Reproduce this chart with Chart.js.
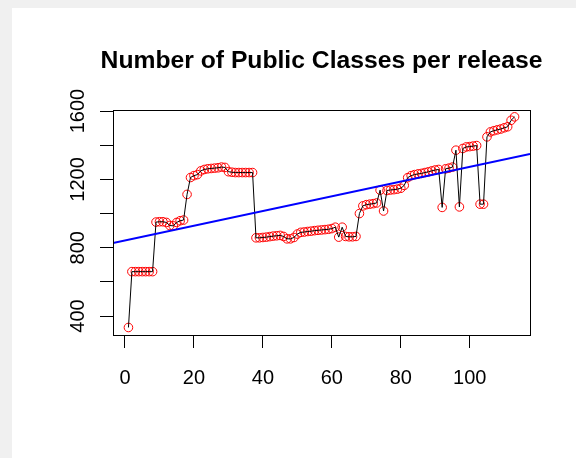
<!DOCTYPE html>
<html>
<head>
<meta charset="utf-8">
<script src="https://cdn.jsdelivr.net/npm/chart.js@4/dist/chart.umd.min.js"></script>
<style>
  html, body { margin: 0; padding: 0; background: #f0f0f0; width: 576px; height: 458px; overflow: hidden; }
  #panel { position: absolute; left: 12px; top: 8px; right: 0; bottom: 0; background: #ffffff; }
  #wrap { position: absolute; left: 0; top: 0; width: 576px; height: 458px; }
</style>
</head>
<body>
<div id="panel"></div>
<div id="wrap"><canvas id="c" width="576" height="458"></canvas></div>
<script>
// ---- data ----
const titleText = "Number of Public Classes per release";
const publicClasses = [
  333, 660, 660, 660, 660, 660, 660, 660, 950, 952,
  952, 948, 930, 928, 948, 958, 962, 1112, 1211, 1222,
  1228, 1250, 1258, 1262, 1264, 1266, 1268, 1272, 1270, 1245,
  1242, 1240, 1240, 1240, 1240, 1240, 1240, 858, 858, 860,
  862, 865, 868, 870, 872, 866, 852, 852, 860, 880,
  890, 892, 895, 897, 900, 902, 904, 906, 908, 912,
  920, 862, 920, 866, 864, 864, 866, 1000, 1045, 1052,
  1055, 1058, 1062, 1137, 1015, 1135, 1138, 1140, 1143, 1148,
  1165, 1210, 1222, 1228, 1232, 1235, 1240, 1244, 1250, 1255,
  1258, 1036, 1262, 1266, 1272, 1371, 1039, 1381, 1390, 1392,
  1395, 1398, 1055, 1055, 1449, 1478, 1485, 1490, 1495, 1502,
  1508, 1546, 1566
];
const releases = publicClasses.map((_, i) => i + 1);
const xTicks = [0, 20, 40, 60, 80, 100];
const yTicks = [400, 600, 800, 1000, 1200, 1400, 1600];
const yTickLabels = [400, 800, 1200, 1600];
const xRange = [-3.48, 117.48];
const yRange = [289, 1606];
const fitIntercept = 842;
const fitSlope = 4.31;

const pointsData = releases.map((r, i) => ({ x: r, y: publicClasses[i] }));
const fitData = xRange.map(x => ({ x: x, y: fitIntercept + fitSlope * x }));

const FONT = "'Liberation Sans', Arial, Helvetica, sans-serif";

const rBox = {
  id: 'rBox',
  afterDraw(chart) {
    const { ctx, chartArea: a, scales } = chart;
    ctx.save();
    ctx.strokeStyle = '#000';
    ctx.lineWidth = 1;
    ctx.strokeRect(Math.round(a.left) + 0.5, Math.round(a.top) + 0.5,
                   Math.round(a.right - a.left), Math.round(a.bottom - a.top));
    // rotated y tick labels (R style, parallel to axis)
    ctx.fillStyle = '#000';
    ctx.font = '20px ' + FONT;
    ctx.textAlign = 'center';
    ctx.textBaseline = 'middle';
    yTickLabels.forEach(v => {
      const py = scales.y.getPixelForValue(v);
      ctx.save();
      ctx.translate(78, py);
      ctx.rotate(-Math.PI / 2);
      ctx.fillText(String(v), 0, 0);
      ctx.restore();
    });
    ctx.restore();
  }
};

new Chart(document.getElementById('c'), {
  type: 'scatter',
  data: {
    datasets: [
      {
        label: 'fit',
        data: fitData,
        showLine: true,
        borderColor: '#0000ff',
        borderWidth: 2,
        pointRadius: 0,
        order: 0
      },
      {
        label: 'line',
        data: pointsData,
        showLine: true,
        borderColor: '#000000',
        borderWidth: 1,
        pointRadius: 0,
        order: 1
      },
      {
        label: 'points',
        data: pointsData,
        showLine: false,
        pointRadius: 4.3,
        pointBorderColor: '#ff0000',
        pointBackgroundColor: 'rgba(0,0,0,0)',
        pointBorderWidth: 1,
        order: 2
      }
    ]
  },
  options: {
    responsive: false,
    animation: false,
    devicePixelRatio: 1,
    layout: { padding: { left: 80, top: 0, right: 13, bottom: 0 } },
    plugins: {
      legend: { display: false },
      tooltip: { enabled: false },
      title: {
        display: true,
        text: titleText,
        color: '#000',
        font: { family: FONT, size: 24.7, weight: 'bold', lineHeight: 1.2 },
        padding: { top: 46, bottom: 34.4 }
      }
    },
    scales: {
      x: {
        type: 'linear',
        position: 'bottom',
        min: xRange[0],
        max: xRange[1],
        afterBuildTicks: s => { s.ticks = xTicks.map(v => ({ value: v })); },
        afterFit: s => { s.height = 123; },
        grid: { drawOnChartArea: false, drawTicks: true, tickLength: 13, color: '#000', lineWidth: 1 },
        border: { display: true, color: '#000', width: 1 },
        ticks: { color: '#000', font: { family: FONT, size: 20 }, padding: 18, maxRotation: 0, autoSkip: false }
      },
      y: {
        type: 'linear',
        position: 'left',
        min: yRange[0],
        max: yRange[1],
        afterBuildTicks: s => { s.ticks = yTicks.map(v => ({ value: v })); },
        afterFit: s => { s.width = 33; },
        grid: { drawOnChartArea: false, drawTicks: true, tickLength: 13, color: '#000', lineWidth: 1 },
        border: { display: true, color: '#000', width: 1 },
        ticks: { display: false, autoSkip: false }
      },
      yRight: {
        type: 'linear',
        position: 'right',
        min: yRange[0],
        max: yRange[1],
        afterFit: s => { s.width = 33; },
        grid: { display: false, drawOnChartArea: false, drawTicks: false },
        border: { display: false },
        ticks: { display: false }
      }
    }
  },
  plugins: [rBox]
});
</script>
</body>
</html>
